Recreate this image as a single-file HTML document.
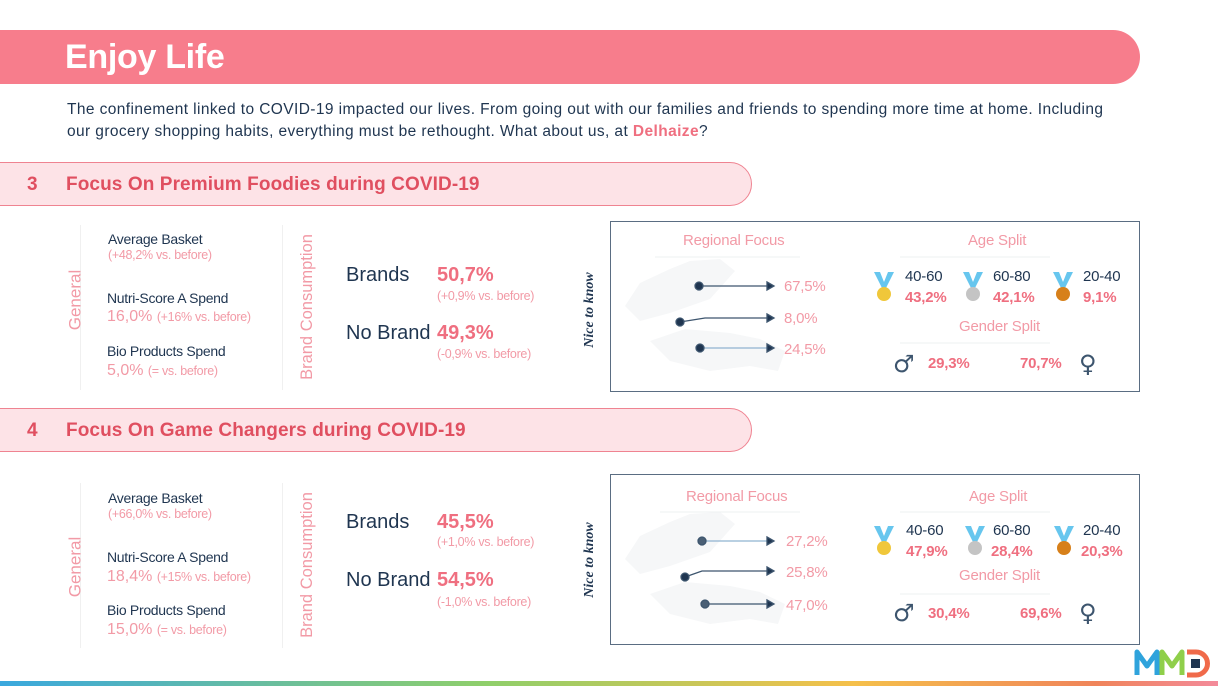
<!DOCTYPE html>
<html><head><meta charset="utf-8">
<style>
*{margin:0;padding:0;box-sizing:border-box}
body{width:1218px;height:686px;background:#fff;position:relative;overflow:hidden;font-family:"Liberation Sans",sans-serif;color:#1f3550}
.a{position:absolute;white-space:nowrap;line-height:1}
.pk{color:#ef6f80}
.lp{color:#f29aa6}
.b{font-weight:bold}
.s11{font-size:12.5px;letter-spacing:-0.3px}
.s13{font-size:14px;letter-spacing:-0.3px}
.s15{font-size:15px;letter-spacing:-0.2px}
.s19{font-size:19px}
.vert{transform:translate(-50%,-50%) rotate(-90deg);transform-origin:center}
.hdr{position:absolute;left:-2px;width:754px;height:44px;background:#fde3e7;border:1.5px solid #ef8391;border-radius:0 24px 24px 0}
.box{position:absolute;left:610px;width:530px;height:171px;border:1.5px solid #5a6d82}
.sep{position:absolute;width:1px;background:#f0f0f0}
.ttl{font-size:19px;color:#e04f60;letter-spacing:0.1px}
.gi{font-size:24px;color:#3d556e;font-family:"DejaVu Sans",sans-serif}
</style></head><body>
<div style="position:absolute;left:0;top:30px;width:1140px;height:54px;background:#f77d8c;border-radius:0 27px 27px 0"></div>
<div class="a b" style="left:65px;top:40px;font-size:34px;color:#fff;letter-spacing:-0.3px">Enjoy Life</div>
<div class="a" style="left:67px;top:99px;font-size:15.5px;letter-spacing:0.4px;line-height:22px;color:#1f3550">The confinement linked to COVID-19 impacted our lives. From going out with our families and friends to spending more time at home. Including<br>our grocery shopping habits, everything must be rethought. What about us, at <span class="pk b">Delhaize</span>?</div>

<!-- section 3 -->
<div class="hdr" style="top:162px"></div>
<div class="a b ttl" style="left:27px;top:175px">3</div>
<div class="a b ttl" style="left:66px;top:175px">Focus On Premium Foodies during COVID-19</div>

<div class="sep" style="left:80px;top:225px;height:165px"></div>
<div class="sep" style="left:282px;top:225px;height:165px"></div>
<div class="a lp vert" style="left:75px;top:300px;font-size:17px">General</div>
<div class="a s13" style="left:108px;top:232px">Average Basket</div>
<div class="a lp s11" style="left:108px;top:249px">(+48,2% vs. before)</div>
<div class="a s13" style="left:107px;top:291px">Nutri-Score A Spend</div>
<div class="a lp" style="left:107px;top:309px;font-size:16px">16,0% <span class="s11">(+16% vs. before)</span></div>
<div class="a s13" style="left:107px;top:344px">Bio Products Spend</div>
<div class="a lp" style="left:107px;top:363px;font-size:16px">5,0% <span class="s11">(= vs. before)</span></div>
<div class="a lp vert" style="left:307px;top:307px;font-size:16.5px">Brand Consumption</div>
<div class="a s19" style="left:346px;top:265px;font-size:20px">Brands</div>
<div class="a s19 b pk" style="left:437px;top:265px;font-size:20px">50,7%</div>
<div class="a lp s11" style="left:437px;top:290px">(+0,9% vs. before)</div>
<div class="a s19" style="left:346px;top:323px;font-size:20px">No Brand</div>
<div class="a s19 b pk" style="left:437px;top:323px;font-size:20px">49,3%</div>
<div class="a lp s11" style="left:437px;top:348px">(-0,9% vs. before)</div>
<div class="a vert" style="left:590px;top:310px;font-size:14px;font-style:italic;font-family:'Liberation Serif',serif;font-weight:bold">Nice to know</div>

<div class="box" style="top:221px"></div>
<svg style="position:absolute;left:610px;top:221px" width="530" height="171">
<path d="M15,85 L30,62 L60,48 L80,40 L110,38 L125,50 L100,78 L60,92 L30,100 Z" fill="#f6f7f8"/>
<path d="M40,120 L75,108 L120,112 L150,118 L175,130 L168,150 L140,145 L100,150 L60,140 Z" fill="#f6f7f8"/>
<line x1="45" y1="36" x2="190" y2="36" stroke="#eef0f2"/>
<line x1="290" y1="36" x2="440" y2="36" stroke="#eef0f2"/>
<line x1="290" y1="122" x2="440" y2="122" stroke="#eef0f2"/>
<g stroke="#3d556e" stroke-width="1.3" fill="#1f3550">
<line x1="89" y1="65" x2="157" y2="65"/><polygon points="157,61 164,65 157,69"/><circle cx="89" cy="65" r="4"/>
<polyline points="70,101 95,97 157,97" fill="none"/><polygon points="157,93 164,97 157,101"/><circle cx="70" cy="101" r="4"/>
<line x1="90" y1="127" x2="157" y2="127" stroke="#8fb3d0"/><polygon points="157,123 164,127 157,131"/><circle cx="90" cy="127" r="4"/>
</g>
<g fill="#67c6ee"><path d="M264,51 l6,0 l4,10 l4,-10 l6,0 l-8,16 l-4,0z"/><path d="M353,51 l6,0 l4,10 l4,-10 l6,0 l-8,16 l-4,0z"/><path d="M443,51 l6,0 l4,10 l4,-10 l6,0 l-8,16 l-4,0z"/></g>
<circle cx="274" cy="73" r="7" fill="#f0c73a"/><circle cx="363" cy="73" r="7" fill="#c4c4c4"/><circle cx="453" cy="73" r="7" fill="#d7801a"/>
</svg>
<div class="a lp s15" style="left:683px;top:233px">Regional Focus</div>
<div class="a lp s15" style="left:784px;top:279px">67,5%</div>
<div class="a lp s15" style="left:784px;top:311px">8,0%</div>
<div class="a lp s15" style="left:784px;top:342px">24,5%</div>
<div class="a lp s15" style="left:968px;top:233px">Age Split</div>
<div class="a s15" style="left:905px;top:269px">40-60</div>
<div class="a s15" style="left:993px;top:269px">60-80</div>
<div class="a s15" style="left:1083px;top:269px">20-40</div>
<div class="a s15 b pk" style="left:905px;top:290px">43,2%</div>
<div class="a s15 b pk" style="left:993px;top:290px">42,1%</div>
<div class="a s15 b pk" style="left:1083px;top:290px">9,1%</div>
<div class="a lp s15" style="left:959px;top:319px">Gender Split</div>
<div class="a gi" style="left:893px;top:352px">♂</div>
<div class="a s15 b pk" style="left:928px;top:356px">29,3%</div>
<div class="a s15 b pk" style="left:1020px;top:356px">70,7%</div>
<div class="a gi" style="left:1079px;top:352px">♀</div>

<!-- section 4 -->
<div class="hdr" style="top:408px"></div>
<div class="a b ttl" style="left:27px;top:421px">4</div>
<div class="a b ttl" style="left:66px;top:421px">Focus On Game Changers during COVID-19</div>

<div class="sep" style="left:80px;top:483px;height:165px"></div>
<div class="sep" style="left:282px;top:483px;height:165px"></div>
<div class="a lp vert" style="left:75px;top:567px;font-size:17px">General</div>
<div class="a s13" style="left:108px;top:491px">Average Basket</div>
<div class="a lp s11" style="left:108px;top:508px">(+66,0% vs. before)</div>
<div class="a s13" style="left:107px;top:550px">Nutri-Score A Spend</div>
<div class="a lp" style="left:107px;top:569px;font-size:16px">18,4% <span class="s11">(+15% vs. before)</span></div>
<div class="a s13" style="left:107px;top:603px">Bio Products Spend</div>
<div class="a lp" style="left:107px;top:622px;font-size:16px">15,0% <span class="s11">(= vs. before)</span></div>
<div class="a lp vert" style="left:307px;top:565px;font-size:16.5px">Brand Consumption</div>
<div class="a s19" style="left:346px;top:512px;font-size:20px">Brands</div>
<div class="a s19 b pk" style="left:437px;top:512px;font-size:20px">45,5%</div>
<div class="a lp s11" style="left:437px;top:536px">(+1,0% vs. before)</div>
<div class="a s19" style="left:346px;top:570px;font-size:20px">No Brand</div>
<div class="a s19 b pk" style="left:437px;top:570px;font-size:20px">54,5%</div>
<div class="a lp s11" style="left:437px;top:596px">(-1,0% vs. before)</div>
<div class="a vert" style="left:590px;top:560px;font-size:14px;font-style:italic;font-family:'Liberation Serif',serif;font-weight:bold">Nice to know</div>

<div class="box" style="top:474px"></div>
<svg style="position:absolute;left:610px;top:474px" width="530" height="171">
<path d="M15,85 L30,62 L60,48 L80,40 L110,38 L125,50 L100,78 L60,92 L30,100 Z" fill="#f6f7f8"/>
<path d="M40,120 L75,108 L120,112 L150,118 L175,130 L168,150 L140,145 L100,150 L60,140 Z" fill="#f6f7f8"/>
<line x1="50" y1="38" x2="190" y2="38" stroke="#eef0f2"/>
<line x1="290" y1="38" x2="440" y2="38" stroke="#eef0f2"/>
<line x1="290" y1="120" x2="440" y2="120" stroke="#eef0f2"/>
<g stroke="#3d556e" stroke-width="1.3" fill="#1f3550">
<line x1="92" y1="67" x2="157" y2="67" stroke="#8fb3d0"/><polygon points="157,63 164,67 157,71"/><circle cx="92" cy="67" r="4" fill="#4a5f75"/>
<polyline points="75,103 92,97 157,97" fill="none"/><polygon points="157,93 164,97 157,101"/><circle cx="75" cy="103" r="4"/>
<line x1="95" y1="130" x2="157" y2="130"/><polygon points="157,126 164,130 157,134"/><circle cx="95" cy="130" r="4" fill="#4a5f75"/>
</g>
<g fill="#67c6ee"><path d="M264,52 l6,0 l4,10 l4,-10 l6,0 l-8,16 l-4,0z"/><path d="M355,52 l6,0 l4,10 l4,-10 l6,0 l-8,16 l-4,0z"/><path d="M444,52 l6,0 l4,10 l4,-10 l6,0 l-8,16 l-4,0z"/></g>
<circle cx="274" cy="74" r="7" fill="#f0c73a"/><circle cx="365" cy="74" r="7" fill="#c4c4c4"/><circle cx="454" cy="74" r="7" fill="#d7801a"/>
</svg>
<div class="a lp s15" style="left:686px;top:489px">Regional Focus</div>
<div class="a lp s15" style="left:786px;top:534px">27,2%</div>
<div class="a lp s15" style="left:786px;top:565px">25,8%</div>
<div class="a lp s15" style="left:786px;top:598px">47,0%</div>
<div class="a lp s15" style="left:969px;top:489px">Age Split</div>
<div class="a s15" style="left:906px;top:523px">40-60</div>
<div class="a s15" style="left:993px;top:523px">60-80</div>
<div class="a s15" style="left:1083px;top:523px">20-40</div>
<div class="a s15 b pk" style="left:906px;top:544px">47,9%</div>
<div class="a s15 b pk" style="left:991px;top:544px">28,4%</div>
<div class="a s15 b pk" style="left:1081px;top:544px">20,3%</div>
<div class="a lp s15" style="left:959px;top:568px">Gender Split</div>
<div class="a gi" style="left:893px;top:601px">♂</div>
<div class="a s15 b pk" style="left:928px;top:606px">30,4%</div>
<div class="a s15 b pk" style="left:1020px;top:606px">69,6%</div>
<div class="a gi" style="left:1079px;top:601px">♀</div>

<!-- logo -->
<svg style="position:absolute;left:1134px;top:648px" width="80" height="30">
<path d="M3,27 L3,4 L13,18 L23,4 L23,27" fill="none" stroke="#2fa3dc" stroke-width="5" stroke-linejoin="round"/>
<path d="M28,27 L28,4 L38,18 L48,4 L48,27" fill="none" stroke="#8fcf4a" stroke-width="5" stroke-linejoin="round"/>
<path d="M53,4 L62,4 A11.5,11.5 0 0 1 62,27 L53,27" fill="none" stroke="#f06a4a" stroke-width="5"/>
<rect x="57" y="11" width="9" height="9" fill="#1f3550"/>
</svg>
<div style="position:absolute;left:0;top:681px;width:1218px;height:5px;background:linear-gradient(90deg,#3aa8de,#8fcf6a 40%,#f5c04a 70%,#f0845a 90%,#f38a9a)"></div>
</body></html>
